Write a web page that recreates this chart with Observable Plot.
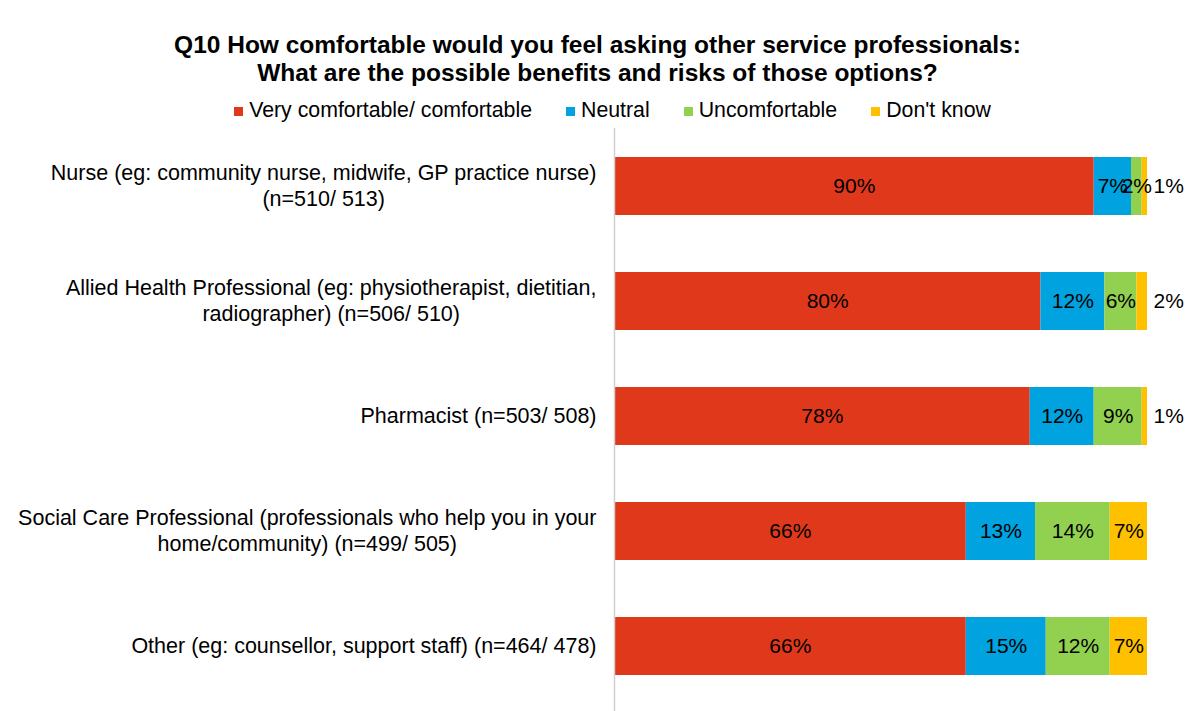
<!DOCTYPE html>
<html>
<head>
<meta charset="utf-8">
<script src="https://cdn.jsdelivr.net/npm/d3@7"></script>
<script src="https://cdn.jsdelivr.net/npm/@observablehq/plot@0.6"></script>
<style>
  html, body { margin: 0; padding: 0; background: #fff; }
  #wrap { position: relative; width: 1203px; height: 711px; overflow: hidden; font-family: "Liberation Sans", Arial, sans-serif; }
  #title { position: absolute; left: 0; top: 31px; width: 1195px; text-align: center; font-weight: bold; font-size: 24.5px; line-height: 28px; color: #000; }
  #legend { position: absolute; left: 22px; top: 98px; width: 1181px; display: flex; justify-content: center; gap: 34px; font-size: 21.3px; line-height: 24px; color: #000; }
  #legend .item { display: flex; align-items: center; }
  #legend .sw { width: 9px; height: 9px; margin-right: 6px; margin-top: 2px; }
  #chart { position: absolute; left: 0; top: 0; }
</style>
</head>
<body>
<div id="wrap">
  <div id="chart"></div>
  <div id="title"></div>
  <div id="legend"></div>
</div>
<script>
const titleLines = [
  "Q10 How comfortable would you feel asking other service professionals:",
  "What are the possible benefits and risks of those options?"
];
const categories = [
  "Nurse (eg: community nurse, midwife, GP practice nurse)\n(n=510/ 513)",
  "Allied Health Professional (eg: physiotherapist, dietitian,\nradiographer) (n=506/ 510)",
  "Pharmacist (n=503/ 508)",
  "Social Care Professional (professionals who help you in your\nhome/community) (n=499/ 505)",
  "Other (eg: counsellor, support staff) (n=464/ 478)"
];
const seriesNames = ["Very comfortable/ comfortable", "Neutral", "Uncomfortable", "Don't know"];
const seriesColors = ["#E0381B", "#00A2DF", "#92D050", "#FFC000"];
const veryComfortable = [90, 80, 78, 66, 66];
const neutral = [7, 12, 12, 13, 15];
const uncomfortable = [2, 6, 9, 14, 12];
const dontKnow = [1, 2, 1, 7, 7];

const seriesValues = [veryComfortable, neutral, uncomfortable, dontKnow];
const data = [];
categories.forEach((c, i) => {
  seriesNames.forEach((s, j) => {
    const v = seriesValues[j][i];
    data.push({category: c, series: s, value: v, outside: j === 3 && v < 3});
  });
});

document.getElementById("title").innerHTML = titleLines.join("<br>");
const legend = document.getElementById("legend");
seriesNames.forEach((s, j) => {
  const it = document.createElement("div");
  it.className = "item";
  const sw = document.createElement("span");
  sw.className = "sw";
  sw.style.background = seriesColors[j];
  const tx = document.createElement("span");
  tx.textContent = s;
  it.appendChild(sw); it.appendChild(tx);
  legend.appendChild(it);
});

const stackOpts = {x: "value", y: "category", z: "series", order: seriesNames};

const chart = Plot.plot({
  width: 1203,
  height: 711,
  marginTop: 128,
  marginBottom: 0,
  marginLeft: 614,
  marginRight: 56,
  style: {fontFamily: "'Liberation Sans', Arial, sans-serif", fontSize: "21px", color: "#000", background: "#fff"},
  x: {domain: [0, 100], axis: null},
  y: {domain: categories, paddingInner: 0.5, paddingOuter: 0.25, insetBottom: 8, label: null},
  color: {domain: seriesNames, range: seriesColors},
  marks: [
    Plot.barX(data, Plot.stackX({...stackOpts, fill: "series"})),
    Plot.text(data, Plot.stackX({...stackOpts, text: d => d.outside ? "" : d.value + "%", fill: "#000", fontSize: 21})),
    Plot.text(data, Plot.stackX2({...stackOpts, text: d => d.outside ? d.value + "%" : "", fill: "#000", fontSize: 21, textAnchor: "start", dx: 6})),
    Plot.ruleX([0], {stroke: "#d0d0d0", strokeWidth: 1.5}),
    Plot.axisY({tickSize: 0, tickPadding: 18, fontSize: 21.5, lineHeight: 1.22, dy: -2, label: null})
  ]
});
document.getElementById("chart").appendChild(chart);

// center multi-line category labels on their own widest line
chart.querySelectorAll('g[aria-label="y-axis tick label"] text').forEach(t => {
  const spans = t.querySelectorAll("tspan");
  if (spans.length < 2) return;
  let w = 0;
  spans.forEach(s => { w = Math.max(w, s.getComputedTextLength()); });
  t.setAttribute("text-anchor", "middle");
  spans.forEach(s => s.setAttribute("x", -w / 2));
});
</script>
</body>
</html>
